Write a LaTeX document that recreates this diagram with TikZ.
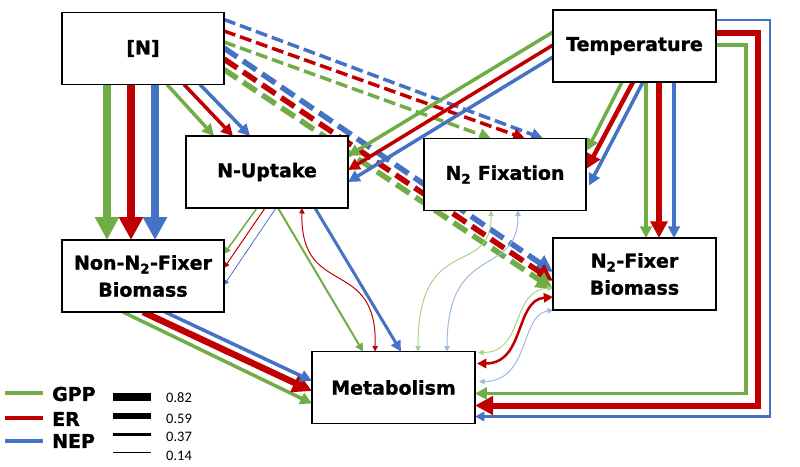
\documentclass[tikz,border=0pt]{standalone}
\usepackage{fontspec}
\setmainfont{DejaVu Sans}
\newfontfamily\heavyfont{DejaVu Sans Bold}[FakeBold=1.3]
\newfontfamily\numfont{Carlito}
\usetikzlibrary{arrows.meta,calc}
\pgfdeclarelayer{bg}
\pgfsetlayers{bg,main}
\definecolor{cg}{HTML}{70AD47}
\definecolor{cr}{HTML}{C00000}
\definecolor{cb}{HTML}{4472C4}
\definecolor{lg}{HTML}{A9D18E}
\definecolor{lb}{HTML}{9DB9E0}
\tikzset{
  box/.style={draw=black, line width=1.3pt, fill=white, minimum width=162pt, minimum height=72pt,
    inner sep=0pt, outer sep=0pt, align=center, font=\heavyfont\fontsize{19}{27}\selectfont},
  arr/.style={-{Triangle[length=3pt 2.5, width=3pt 2.5]}},
  darr/.style={{Triangle[length=3pt 2.5, width=3pt 2.5]}-{Triangle[length=3pt 2.5, width=3pt 2.5]}},
  thindash/.style={dash pattern=on 12pt off 5pt},
  thickdash/.style={dash pattern=on 16pt off 7pt},
  legtext/.style={anchor=west, inner sep=0pt, font=\heavyfont\fontsize{19}{19}\selectfont},
  legnum/.style={anchor=west, inner sep=0pt, font=\numfont\fontsize{14.5}{14.5}\selectfont},
}
\begin{document}
\begin{tikzpicture}[x=1pt,y=-1pt]
\useasboundingbox (0,0) rectangle (800,466);
% boxes
\node[box] (N)  at (143,48.5) {[N]};
\node[box] (UP) at (267,172) {N-Uptake};
\node[box, minimum width=163pt] (T) at (634.5,46) {Temperature};
\node[box] (FX) at (505,174.5) {N\textsubscript{2} Fixation};
\node[box] (NF) at (143,276) {Non-N\textsubscript{2}-Fixer\\Biomass};
\node[box, minimum width=163pt] (FB) at (634.5,274) {N\textsubscript{2}-Fixer\\Biomass};
\node[box, minimum width=163pt] (M) at (393.5,387.5) {Metabolism};

\begin{pgfonlayer}{bg}
% [N] -> Non-N2-Fixer
\draw[arr,cg,line width=8pt] ($(N.south west)+(45,0)$) -- ($(NF.north west)+(45,0)$);
\draw[arr,cr,line width=8pt] ($(N.south west)+(69,0)$) -- ($(NF.north west)+(69,0)$);
\draw[arr,cb,line width=8pt] ($(N.south west)+(93,0)$) -- ($(NF.north west)+(93,0)$);
% [N] -> N-Uptake
\draw[arr,cg,line width=3.5pt] ($(N.south west)+(105,0)$) -- ($(UP.north west)+(28,0)$);
\draw[arr,cr,line width=3.5pt] ($(N.south west)+(122,0)$) -- ($(UP.north west)+(47,0)$);
\draw[arr,cb,line width=3.5pt] ($(N.south west)+(138,0)$) -- ($(UP.north west)+(64,0)$);
% [N] -> N2 Fixation (dashed)
\draw[arr,cb,line width=3.5pt,thindash] ($(N.north east)+(0,7)$) -- ($(FX.north west)+(119,0)$);
\draw[arr,cr,line width=3.5pt,thindash] ($(N.north east)+(0,18.5)$) -- ($(FX.north west)+(101,0)$);
\draw[arr,cg,line width=3.5pt,thindash] ($(N.north east)+(0,29.5)$) -- ($(FX.north west)+(67,0)$);
% [N] -> N2-Fixer Biomass (dashed)
\draw[arr,cb,line width=5.5pt,thickdash] ($(N.north east)+(0,35.5)$) -- ($(FB.north west)+(0,34)$);
\draw[arr,cr,line width=5.5pt,thickdash] ($(N.north east)+(0,46.5)$) -- ($(FB.north west)+(0,43)$);
\draw[arr,cg,line width=5.5pt,thickdash] ($(N.north east)+(0,57)$) -- ($(FB.north west)+(0,51)$);
% Temperature -> N-Uptake
\draw[arr,cg,line width=3.5pt] ($(T.north west)+(0,22)$) -- ($(UP.north east)+(0,20)$);
\draw[arr,cr,line width=3.5pt] ($(T.north west)+(0,35)$) -- ($(UP.north east)+(0,34)$);
\draw[arr,cb,line width=3.5pt] ($(T.north west)+(0,47)$) -- ($(UP.north east)+(0,46)$);
% Temperature -> N2 Fixation
\draw[arr,cg,line width=3.5pt] ($(T.south west)+(69,0)$) -- ($(FX.north east)+(1,12)$);
\draw[arr,cr,line width=4.5pt] ($(T.south west)+(80,0)$) -- ($(FX.north east)+(1,30)$);
\draw[arr,cb,line width=3.5pt] ($(T.south west)+(90,0)$) -- ($(FX.north east)+(3,47)$);
% Temperature -> N2-Fixer Biomass
\draw[arr,cg,line width=3.5pt] ($(T.south west)+(93,0)$) -- ($(FB.north west)+(93,0)$);
\draw[arr,cr,line width=5.5pt] ($(T.south west)+(106,0)$) -- ($(FB.north west)+(106,0)$);
\draw[arr,cb,line width=3.5pt] ($(T.south west)+(121,0)$) -- ($(FB.north west)+(121,0)$);
% Temperature -> Metabolism (routed)
\draw[arr,cb,line width=2.5pt] ($(T.north east)+(0,10)$) -- ++(54,0) |- ($(M.north east)+(0,65)$);
\draw[arr,cr,line width=6pt] ($(T.north east)+(0,23)$) -- ++(42,0) |- ($(M.north east)+(0,54)$);
\draw[arr,cg,line width=3.5pt] ($(T.north east)+(0,35)$) -- ++(30,0) |- ($(M.north east)+(0,42)$);
% N-Uptake -> Non-N2-Fixer
\draw[arr,cg,line width=1.5pt] ($(UP.south west)+(71,0)$) -- ($(NF.north east)+(0,14)$);
\draw[arr,cr,line width=1pt] ($(UP.south west)+(79,0)$) -- ($(NF.north east)+(0,28)$);
\draw[arr,cb,line width=0.8pt] ($(UP.south west)+(90,0)$) -- ($(NF.north east)+(0,45)$);
% N-Uptake -> Metabolism
\draw[arr,cg,line width=2pt] ($(UP.south west)+(92,0)$) -- ($(M.north west)+(51,0)$);
\draw[arr,cb,line width=3pt] ($(UP.south west)+(129,0)$) -- ($(M.north west)+(89,0)$);
\draw[darr,cr,line width=1pt] ($(UP.south west)+(116,0)$) .. controls +(-2,92) and +(3,-96.5) .. ($(M.north west)+(63,0)$);
% N2 Fixation <-> Metabolism
\draw[darr,lg,line width=1pt] ($(FX.south west)+(67,0)$) .. controls +(1,69) and +(0,-121.5) .. ($(M.north west)+(106,0)$);
\draw[darr,lb,line width=1pt] ($(FX.south west)+(94,0)$) .. controls +(0,69) and +(0,-111.5) .. ($(M.north west)+(135,0)$);
% N2-Fixer Biomass <-> Metabolism
\draw[darr,lg,line width=1pt] ($(FB.north west)+(0,50)$) .. controls +(-43,2) and +(47,0) .. ($(M.north east)+(3,1)$);
\draw[darr,cr,line width=2.5pt] ($(FB.north west)+(0,59)$) .. controls +(-38,3) and +(48,0) .. ($(M.north east)+(2,12)$);
\draw[darr,lb,line width=1pt] (FB.south west) .. controls +(-33,5) and +(51,0) .. ($(M.north east)+(4,30)$);
% Non-N2-Fixer -> Metabolism
\draw[arr,cg,line width=3.5pt] ($(NF.south west)+(61,0)$) -- ($(M.north west)+(0,52)$);
\draw[arr,cr,line width=6.5pt] ($(NF.south west)+(81,0)$) -- ($(M.north west)+(0,39.5)$);
\draw[arr,cb,line width=3.5pt] ($(NF.south west)+(103,0)$) -- ($(M.north west)+(0,29.5)$);
\end{pgfonlayer}

% legend
\draw[cg,line width=3.5pt] (5,393) -- (43,393);
\draw[cr,line width=3.5pt] (5,418) -- (43,418);
\draw[cb,line width=3.5pt] (5,441) -- (43,441);
\node[legtext] (lgpp) at (52,394) {GPP};
\node[legtext] (ler)  at (52,419) {ER};
\node[legtext] (lnep) at (52,441) {NEP};
\draw[black,line width=7.5pt] (113,397) -- (151,397);
\draw[black,line width=5.5pt] (113,416) -- (151,416);
\draw[black,line width=3.5pt] (113,434.5) -- (151,434.5);
\draw[black,line width=1pt] (113,452) -- (151,452);
\node[legnum] (n1) at (166,398) {0.82};
\node[legnum] (n2) at (166,419) {0.59};
\node[legnum] (n3) at (166,437) {0.37};
\node[legnum] (n4) at (166,456) {0.14};
\end{tikzpicture}
\end{document}
